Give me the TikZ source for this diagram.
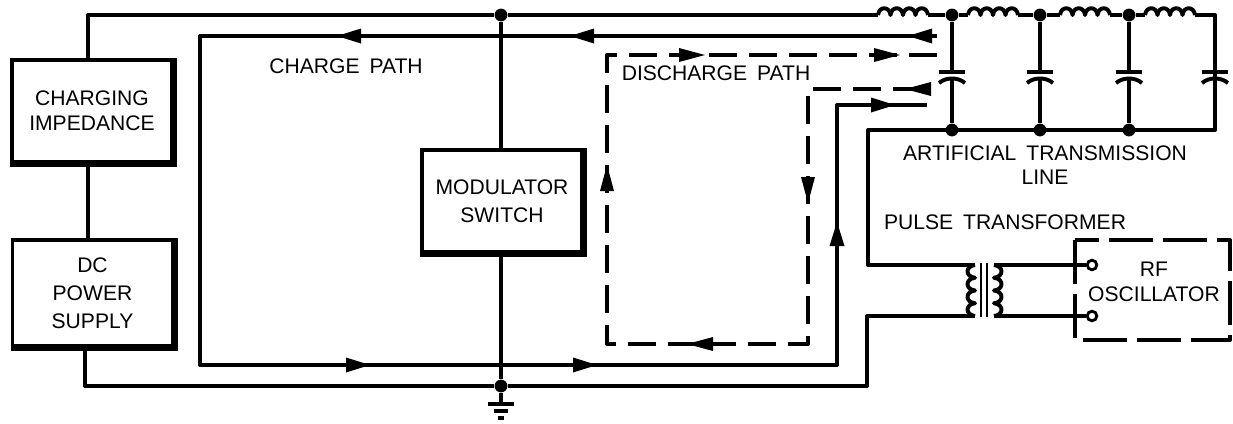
\documentclass[tikz,border=0pt]{standalone}
\usepackage{fontspec}
\setmainfont[WordSpace=1.7]{Liberation Sans}
\usepackage{tikz}
\usetikzlibrary{calc}
\begin{document}
\begin{tikzpicture}[
  x=0.25mm, y=-0.25mm,
  wire/.style={line width=2.8pt, line join=round},
  dashwire/.style={wire, dash pattern=on 7mm off 3mm},
  blockbox/.style={draw, line width=2.8pt, minimum width=40mm, minimum height=25.5mm,
                   inner sep=0, align=center, font=\fontsize{15}{20}\selectfont},
  label/.style={inner sep=0, align=center, font=\fontsize{15}{17.5}\selectfont},
  junct/.style={circle, fill=black, inner sep=0, minimum size=3.2mm},
  terminal/.style={circle, draw, fill=white, line width=2pt, inner sep=0, minimum size=2.4mm},
]
\useasboundingbox (0,0) rectangle (1233,423);
% ---- blocks
\node[blockbox, font=\fontsize{15}{17.5}\selectfont] (charging) at (92,111) {CHARGING\\IMPEDANCE};
\node[blockbox, minimum height=26.5mm] (supply) at (92.5,293) {DC\\POWER\\SUPPLY};
\node[blockbox] (switch) at (502,201) {MODULATOR\\SWITCH};
\foreach \blk in {charging, supply, switch} {
  \draw[line width=5pt, line join=miter] (\blk.north east) -- (\blk.south east) -- (\blk.south west);
}
% ---- junctions
\node[junct] (topj) at (501,15) {};
\node[junct] (botj) at (501,386) {};
\foreach \nm/\xo in {a/952, b/1040, c/1129} {
  \node[junct] (t\nm) at (\xo,15) {};
  \node[junct] (b\nm) at (\xo,130) {};
}
% ---- supply loop
\coordinate (lina) at (878,15);
\coordinate (linb) at (968,15);
\coordinate (linc) at (1060,15);
\coordinate (lind) at (1145,15);
\coordinate (lineend) at (1215,130);
\coordinate (priin) at (868,130);
\coordinate (prilow) at (867,316);
\draw[wire] (88,60) |- (topj) -- (lina);
\draw[wire] (88,162) -- (88,241);
\draw[wire] (85,345) |- (botj) -| (prilow) -- (975,316);
\draw[wire] (topj) -- (501,150);
\draw[wire] (501,253) -- (botj);
% inductors
\foreach \start in {lina, linb, linc, lind} {
  \draw[wire] (\start) \foreach \k in {1,2,3,4} {.. controls +(1,-9) and +(-1,-9) .. ++(12.5,0)};
}
\draw[wire] (928,15) -- (ta) (ta) -- (linb);
\draw[wire] (1018,15) -- (tb) (tb) -- (linc);
\draw[wire] (1110,15) -- (tc) (tc) -- (lind);
\draw[wire] (1195,15) -| (lineend) -- (priin) |- (975,265);
% ---- capacitors
\foreach \nm/\xo in {a/952, b/1040, c/1129} {
  \draw[wire] (t\nm) -- (\xo,72) (\xo,80) -- (b\nm);
}
\draw[wire] (1215,15) -- (1215,72) (1215,80) -- (1215,130);
\foreach \xo in {952,1040,1129,1215} {
  \draw[wire] (\xo-13,72) -- (\xo+13,72);
  \draw[wire] (\xo-13,83) .. controls (\xo-6,77) and (\xo+6,77) .. (\xo+13,83);
}
% ---- ground
\coordinate (gnd) at (501,404);
\draw[wire] (botj) -- (gnd);
\draw[wire] (488,404) -- (514,404);
\draw[wire] (494,411) -- (508,411);
\draw[wire] (498,418) -- (504,418);
% ---- transformer
\draw[wire] (975,265) \foreach \k in {1,2,3,4} {.. controls +(-10,1) and +(-10,-1) .. ++(0,12.75)};
\draw[wire] (994,265) \foreach \k in {1,2,3,4} {.. controls +(10,1) and +(10,-1) .. ++(0,12.75)};
\draw[line width=1.8pt] (981,263) -- (981,317) (987,263) -- (987,317);
\node[terminal] (outa) at (1092,265) {};
\node[terminal] (outb) at (1092,316) {};
\draw[wire] (994,265) -- (outa);
\draw[wire] (994,316) -- (outb);
\draw[dashwire, dash pattern=on 11mm off 2.5mm] (1075,240) rectangle (1230,340);
% ---- charge path
\coordinate (chgin) at (937,36);
\coordinate (chgout) at (927,105);
\draw[wire] (chgin) -| (200,365) -| (837,105) -- (chgout);
% ---- discharge path
\coordinate (dchout) at (937,55);
\coordinate (dchin) at (933,89);
\draw[dashwire] (dchout) -| (607,344) -| (808,89) -- (dchin);
% ---- flow arrows: x, y, direction
\foreach \xo/\yo/\ang in {337/36/180, 570/36/180, 908/36/180, 370/365/0, 597/365/0,
                          895/105/0, 837/222/90} {
  \fill[shift={(\xo,\yo)}, rotate=\ang] (0,0) -- (-24,-7.5) -- (-24,7.5) -- cycle;
}
\foreach \xo/\yo/\ang in {705/55/0, 900/55/0, 905/89/180, 687/344/180, 607/165/90, 808/203/-90} {
  \fill[shift={(\xo,\yo)}, rotate=\ang] (0,0) -- (-26,-7) -- (-26,7) -- cycle;
}
% ---- texts
\node[label] (chglabel) at (346,66) {CHARGE PATH};
\node[label] (dchlabel) at (716,73) {DISCHARGE PATH};
\node[label] (linelabel) at (1045,165) {ARTIFICIAL TRANSMISSION\\LINE};
\node[label] (pulselabel) at (1005,222) {PULSE TRANSFORMER};
\node[label] (rflabel) at (1154,282) {RF\\OSCILLATOR};
\end{tikzpicture}
\end{document}
